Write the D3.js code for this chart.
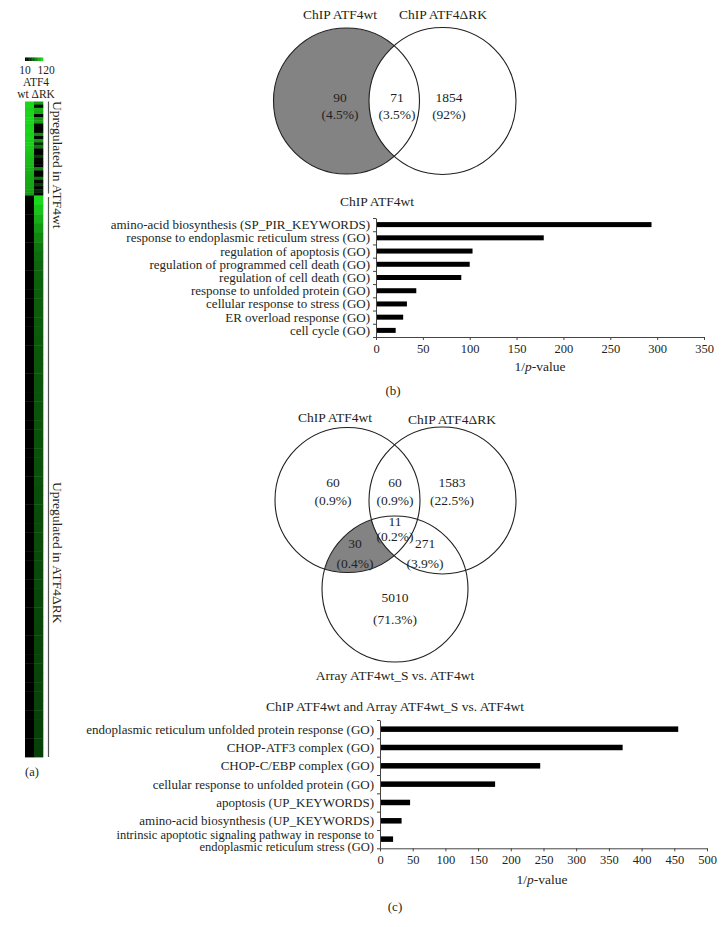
<!DOCTYPE html>
<html><head><meta charset="utf-8">
<script src="https://cdn.jsdelivr.net/npm/d3@7"></script>
<style>
body{margin:0;background:#fff}
text{font-family:"Liberation Serif","Times New Roman",serif;fill:#231f20}
</style>
</head><body>
<svg id="c" width="724" height="927"></svg>
<script>
// ---------- DATA ----------
const legendStops = [10,20,30,40,50,60,70,80,90,100,110,120];
const legendLabels = ["10","120"];
const heatTitle = "ATF4";
const heatColumns = "wt ΔRK";
const wtTop  = [118,120,116,119,117,120,118,115,117,119,116,118,114,116,113,112,110,108,106,105,102,100,98,97,95,96,94,93,92,90];
const drkTop = [90,15,100,95,12,85,90,15,10,12,80,15,85,35,70,10,10,40,15,10,10,75,10,12,70,15,40,12,30,15];
const wtBottom = [12,11,10,10,10,10,10,10,10,10,10,10,10,10,10,10,10,10,10,10,10,10,10,10,10,10,10,10,10,10,10,10,10,10,10,10,10,10,10,10,10,10,10,10,10,10,10,10,10,10,10,10,10,10,10,10,10,10,10,10];
const drkBottom = [120,110,98,87,78,70,65,62,60,59,58,57,57,56,56,55,55,54,54,53,53,53,52,52,52,51,51,51,50,50,50,49,49,49,48,48,48,48,47,47,47,47,46,46,46,46,45,45,45,45,45,44,44,44,44,43,43,43,43,42];
const groupLabels = ["Upregulated in ATF4wt","Upregulated in ATF4ΔRK"];

const venn1Sets = ["ChIP ATF4wt","ChIP ATF4ΔRK"];
const venn1Counts = ["90","71","1854"];
const venn1Pcts = ["(4.5%)","(3.5%)","(92%)"];

const bar1Title = "ChIP ATF4wt";
const bar1Cats = ["amino-acid biosynthesis (SP_PIR_KEYWORDS)","response to endoplasmic reticulum stress (GO)","regulation of apoptosis (GO)","regulation of programmed cell death (GO)","regulation of cell death (GO)","response to unfolded protein (GO)","cellular response to stress (GO)","ER overload response (GO)","cell cycle (GO)"];
const bar1Vals = [294,179,103,100,91,43,33,29,21];
const bar1Ticks = [0,50,100,150,200,250,300,350];

const venn2Sets = ["ChIP ATF4wt","ChIP ATF4ΔRK","Array ATF4wt_S vs. ATF4wt"];
const venn2Counts = ["60","60","1583","11","30","271","5010"];
const venn2Pcts = ["(0.9%)","(0.9%)","(22.5%)","(0.2%)","(0.4%)","(3.9%)","(71.3%)"];

const bar2Title = "ChIP ATF4wt and Array ATF4wt_S vs. ATF4wt";
const bar2Cats = ["endoplasmic reticulum unfolded protein response (GO)","CHOP-ATF3 complex (GO)","CHOP-C/EBP complex (GO)","cellular response to unfolded protein (GO)","apoptosis (UP_KEYWORDS)","amino-acid biosynthesis (UP_KEYWORDS)","intrinsic apoptotic signaling pathway in response to\nendoplasmic reticulum stress (GO)"];
const bar2Vals = [456,371,245,176,46,33,20];
const bar2Ticks = [0,50,100,150,200,250,300,350,400,450,500];

const panelLabels = ["(a)","(b)","(c)"];

// ---------- DRAW ----------
const svg = d3.select("#c");
const INK = "#231f20";

// ---- Heatmap (a)
const heatColor = d3.scaleLinear().domain([10,120]).range(["#000000","#1cd81c"]);
const hx = d3.scaleBand().domain([0,1]).range([25,43]);
const yTopH = d3.scaleBand().domain(d3.range(wtTop.length)).range([101.5,195.5]);
const yBotH = d3.scaleBand().domain(d3.range(wtBottom.length)).range([195.5,757]);
const hg = svg.append("g");
function heatRows(vals, col, ys){
  hg.selectAll(null).data(vals).enter().append("rect")
    .attr("x", hx(col)).attr("width", hx.bandwidth()+0.3)
    .attr("y", (d,i)=>ys(i)).attr("height", ys.bandwidth()+0.4)
    .attr("fill", d=>heatColor(d));
}
heatRows(wtTop,0,yTopH); heatRows(drkTop,1,yTopH);
heatRows(wtBottom,0,yBotH); heatRows(drkBottom,1,yBotH);

// legend
const lx = d3.scaleBand().domain(d3.range(legendStops.length)).range([25,43]);
hg.selectAll(null).data(legendStops).enter().append("rect")
  .attr("x",(d,i)=>lx(i)).attr("width",lx.bandwidth()+0.3)
  .attr("y",57.5).attr("height",3.5).attr("fill",d=>heatColor(d));
hg.append("text").attr("x",25).attr("y",73.5).attr("font-size",11.5).attr("text-anchor","middle").text(legendLabels[0]);
hg.append("text").attr("x",46).attr("y",73.5).attr("font-size",11.5).attr("text-anchor","middle").text(legendLabels[1]);
hg.append("text").attr("x",36).attr("y",85.5).attr("font-size",11.5).attr("text-anchor","middle").text(heatTitle);
hg.append("text").attr("x",36).attr("y",97.5).attr("font-size",11.5).attr("text-anchor","middle").text(heatColumns);

// brackets
hg.append("line").attr("x1",48.5).attr("x2",48.5).attr("y1",101.5).attr("y2",193.5).attr("stroke","#555").attr("stroke-width",1.2);
hg.append("line").attr("x1",48.5).attr("x2",48.5).attr("y1",197).attr("y2",757).attr("stroke","#555").attr("stroke-width",1.2);
hg.append("text").attr("transform","translate(53,101) rotate(90)").attr("font-size",13.5).text(groupLabels[0]);
hg.append("text").attr("transform","translate(53,482) rotate(90)").attr("font-size",13.5).text(groupLabels[1]);
hg.append("text").attr("x",32).attr("y",776).attr("font-size",12.5).attr("text-anchor","middle").text(panelLabels[0]);

// ---- Venn helper
function label(g,x,y,t,fs,anchor){
  return g.append("text").attr("x",x).attr("y",y).attr("dy","0.35em").attr("font-size",fs||13.5)
    .attr("text-anchor",anchor||"middle").text(t);
}

// ---- Venn 1
const v1 = svg.append("g");
const c1a = {x:346.5,y:101,r:73}, c1b = {x:442.5,y:101,r:73.5};
v1.append("circle").attr("cx",c1a.x).attr("cy",c1a.y).attr("r",c1a.r).attr("fill","#838383");
v1.append("circle").attr("cx",c1b.x).attr("cy",c1b.y).attr("r",c1b.r).attr("fill","#fff");
[c1a,c1b].forEach(c=>v1.append("circle").attr("cx",c.x).attr("cy",c.y).attr("r",c.r).attr("fill","none").attr("stroke",INK).attr("stroke-width",1.1));
label(v1,340,14,venn1Sets[0]); label(v1,443,14,venn1Sets[1]);
const v1pos = [[340,97,114],[397,97,114],[449,97,114]];
v1pos.forEach((p,i)=>{label(v1,p[0],p[1],venn1Counts[i]); label(v1,p[0],p[2],venn1Pcts[i]);});

// ---- Bar chart helper
function barChart(o){
  const g = svg.append("g");
  const n = o.cats.length;
  const x = d3.scaleLinear().domain([0,o.max]).range([o.x0,o.x1]);
  const y = d3.scaleBand().domain(d3.range(n)).range([o.yTop,o.yBot]);
  const yl = d3.scaleLinear().domain([0,n]).range([o.yTop,o.yBot]);
  g.selectAll(null).data(o.vals).enter().append("rect")
    .attr("x",x(0)).attr("y",(d,i)=>y(i)+y.bandwidth()/2-o.barH/2)
    .attr("width",d=>x(d)-x(0)).attr("height",o.barH).attr("fill","#000");
  const xa = g.append("g").attr("transform",`translate(0,${o.yBot})`)
    .call(d3.axisBottom(x).tickValues(o.ticks).tickSize(3).tickSizeOuter(0).tickPadding(4));
  const ya = g.append("g").attr("transform",`translate(${o.x0},0)`)
    .call(d3.axisLeft(yl).tickValues(d3.range(n+1)).tickFormat("").tickSize(3).tickSizeOuter(0));
  [xa,ya].forEach(a=>{a.select(".domain").attr("stroke","#444").attr("stroke-width",1);
    a.selectAll(".tick line").attr("stroke","#444");
    a.selectAll("text").attr("font-family","Liberation Serif, serif").attr("font-size",12.5).attr("fill",INK);});
  o.cats.forEach((c,i)=>{
    const lines = c.split("\n");
    const cy = y(i)+y.bandwidth()/2 + (lines.length>1 ? o.multiShift : 0) - (lines.length-1)*o.lh/2;
    const t = g.append("text").attr("text-anchor","end").attr("font-size",lines.length>1?o.fs-0.5:o.fs)
      .attr("x",o.x0-6).attr("y",cy);
    lines.forEach((l,k)=>t.append("tspan").attr("x",o.x0-6).attr("dy",k===0?"0.35em":o.lh).text(l));
  });
  label(g,o.titleX,o.titleY,o.title,13.5);
  const al = g.append("text").attr("x",o.axX).attr("y",o.axY).attr("dy","0.35em").attr("text-anchor","middle").attr("font-size",13.5);
  al.append("tspan").text("1/");
  al.append("tspan").attr("font-style","italic").text("p");
  al.append("tspan").text("-value");
  return g;
}

barChart({cats:bar1Cats,vals:bar1Vals,ticks:bar1Ticks,max:350,x0:376,x1:704,yTop:218,yBot:337,barH:5,fs:13,lh:12.7,multiShift:0,
  title:bar1Title,titleX:377,titleY:201,axX:540,axY:366});
label(svg,393,390,panelLabels[1],13);

// ---- Venn 2
const v2 = svg.append("g");
const cA={x:347.5,y:500,r:72.5}, cB={x:442.5,y:500.5,r:73.5}, cC={x:395,y:589,r:73};
const defs = svg.append("defs");
defs.append("clipPath").attr("id","clipA").append("circle").attr("cx",cA.x).attr("cy",cA.y).attr("r",cA.r);
v2.append("circle").attr("cx",cC.x).attr("cy",cC.y).attr("r",cC.r).attr("fill","#838383").attr("clip-path","url(#clipA)");
v2.append("circle").attr("cx",cB.x).attr("cy",cB.y).attr("r",cB.r).attr("fill","#fff");
[cA,cB,cC].forEach(c=>v2.append("circle").attr("cx",c.x).attr("cy",c.y).attr("r",c.r).attr("fill","none").attr("stroke",INK).attr("stroke-width",1.1));
label(v2,335,417,venn2Sets[0]); label(v2,452,419.5,venn2Sets[1]); label(v2,395,675,venn2Sets[2]);
const v2pos=[[333,482,500],[395,482,500],[452,482,500],[395,521,536],[355,543,563],[425,543,563],[395,597,619]];
v2pos.forEach((p,i)=>{label(v2,p[0],p[1],venn2Counts[i]); label(v2,p[0],p[2],venn2Pcts[i]);});

barChart({cats:bar2Cats,vals:bar2Vals,ticks:bar2Ticks,max:500,x0:380,x1:707,yTop:720,yBot:848.3,barH:5.5,fs:13,lh:12.5,multiShift:1.5,
  title:bar2Title,titleX:395,titleY:706,axX:542,axY:879});
label(svg,395,906,panelLabels[2],13);
</script>
</body></html>
